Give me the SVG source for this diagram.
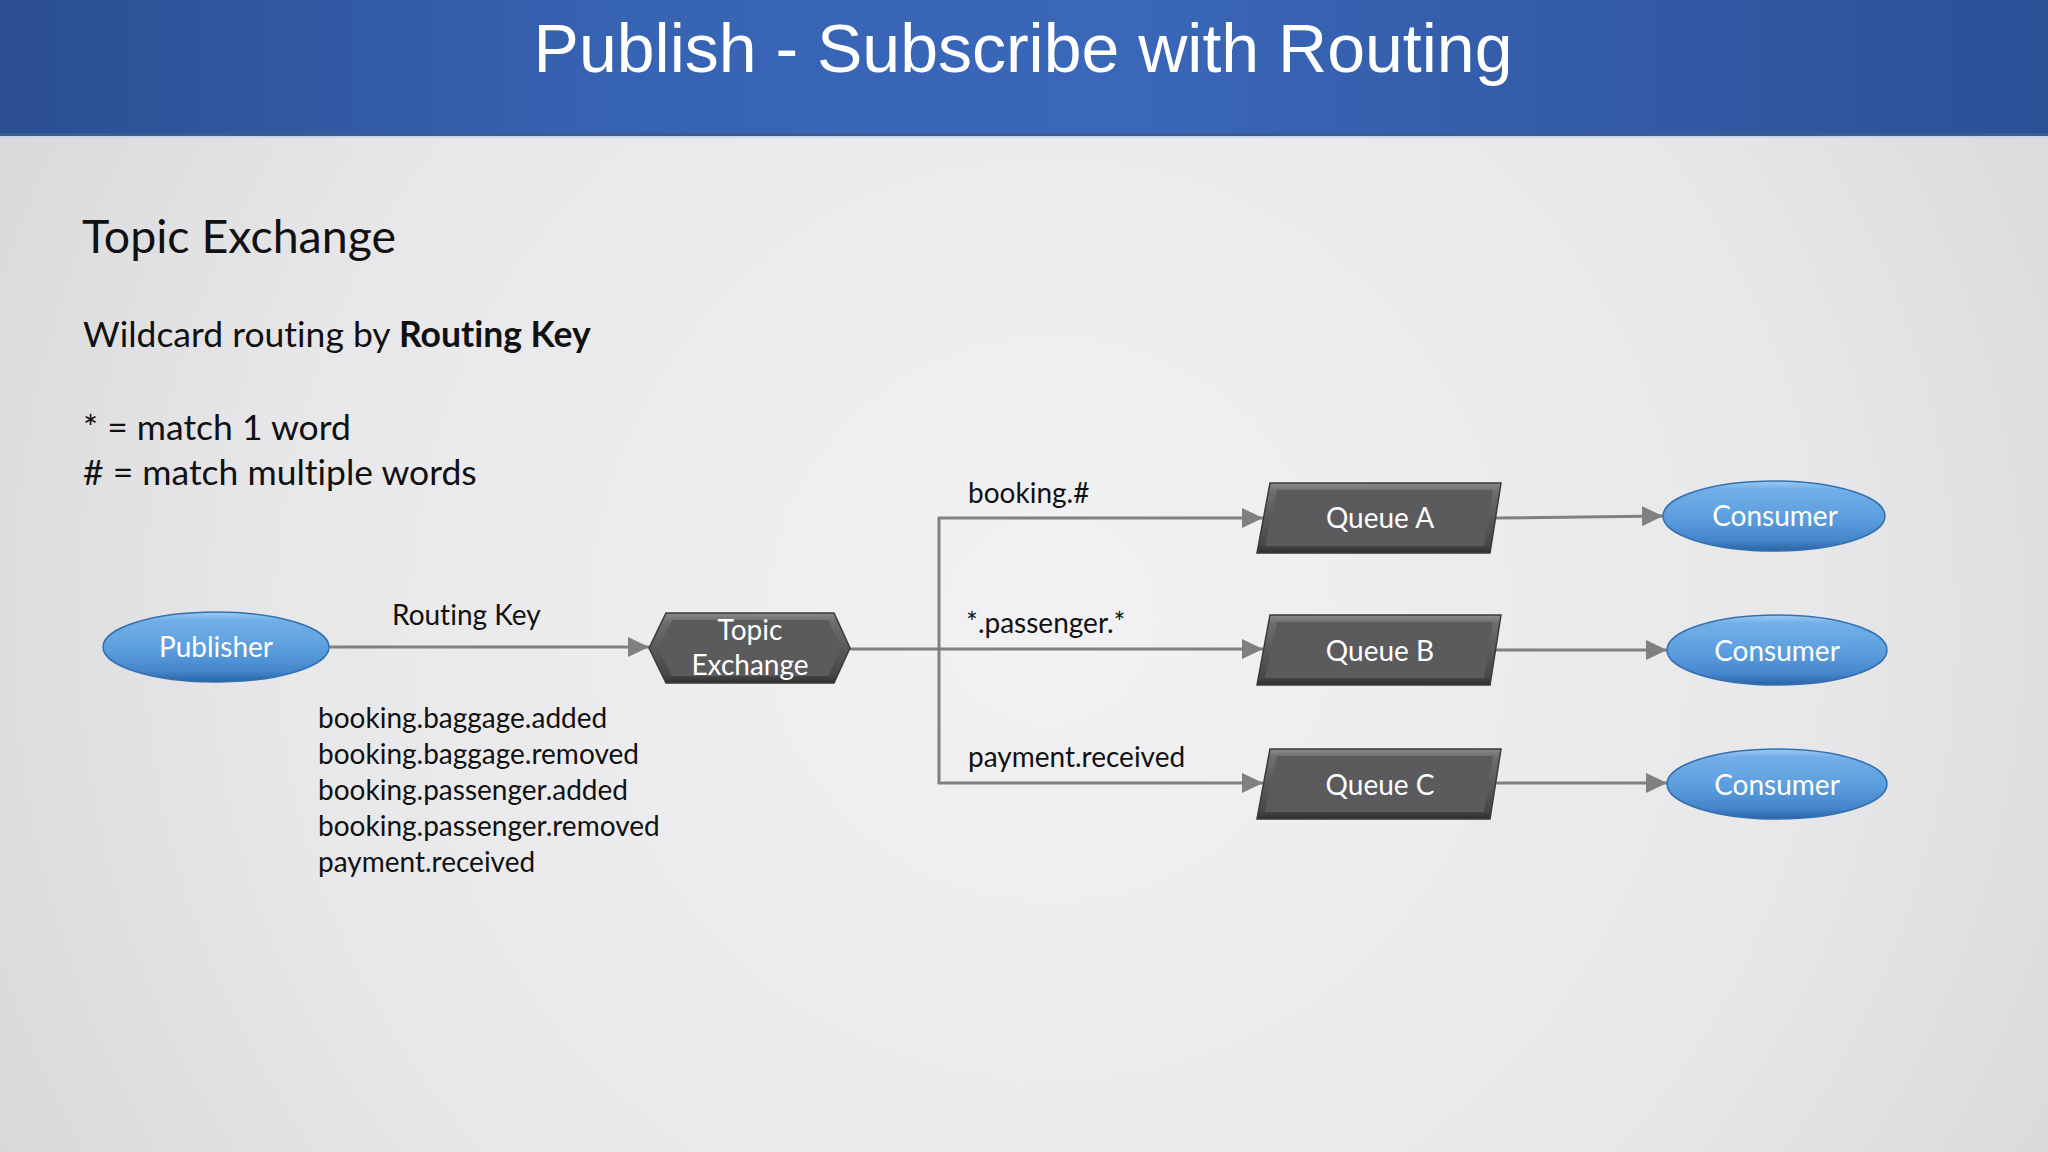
<svg xmlns="http://www.w3.org/2000/svg" width="2048" height="1152" viewBox="0 0 2048 1152">
<defs>
  <radialGradient id="bg" cx="1050" cy="620" r="1250" gradientUnits="userSpaceOnUse">
    <stop offset="0" stop-color="#f2f2f4"/>
    <stop offset="0.6" stop-color="#e8e8ea"/>
    <stop offset="1" stop-color="#d6d6d8"/>
  </radialGradient>
  <linearGradient id="banner" x1="0" y1="0" x2="1" y2="0">
    <stop offset="0" stop-color="#2b4e91"/>
    <stop offset="0.3" stop-color="#3763b3"/>
    <stop offset="0.55" stop-color="#3a67b8"/>
    <stop offset="1" stop-color="#2c5096"/>
  </linearGradient>
  <linearGradient id="blue" x1="0" y1="0" x2="0" y2="1">
    <stop offset="0" stop-color="#9ccbf2"/>
    <stop offset="0.12" stop-color="#72afe8"/>
    <stop offset="0.55" stop-color="#5a9ddd"/>
    <stop offset="0.85" stop-color="#4485cb"/>
    <stop offset="1" stop-color="#2a62a3"/>
  </linearGradient>
  <linearGradient id="dark" x1="0" y1="0" x2="0" y2="1">
    <stop offset="0" stop-color="#8a8a8a"/>
    <stop offset="0.12" stop-color="#6e6e6e"/>
    <stop offset="0.5" stop-color="#5a5a5a"/>
    <stop offset="0.88" stop-color="#484848"/>
    <stop offset="1" stop-color="#2e2e2e"/>
  </linearGradient>
  <marker id="arr" markerUnits="userSpaceOnUse" markerWidth="22" markerHeight="22" refX="21" refY="10" orient="auto">
    <path d="M0,0 L21,10 L0,20 Z" fill="#808080"/>
  </marker>
  <style>
    text { font-variant-ligatures: none; }
    .t { font-family: Lato, "Open Sans", sans-serif; fill: #111; }
    .w { font-family: Lato, "Open Sans", sans-serif; fill: #ffffff; font-size: 28px; text-anchor: middle; }
    .lbl { font-size: 28px; }
    .con { fill: none; stroke: #808080; stroke-width: 3; }
    .ell { fill: url(#blue); stroke: #3470b0; stroke-width: 1.5; }
    .shape { fill: url(#dark); stroke: #3a3a3a; stroke-width: 1.5; }
    .inner { fill: #5b5b5d; }
  </style>
</defs>
<rect x="0" y="0" width="2048" height="1152" fill="url(#bg)"/>
<rect x="0" y="0" width="2048" height="135" fill="url(#banner)"/>
<rect x="0" y="133" width="2048" height="3" fill="#3f5c8e"/>
<rect x="0" y="136" width="2048" height="2" fill="#c9d5ea"/>
<text x="1023" y="72" font-family="'Liberation Sans', Arial, sans-serif" font-size="68" fill="#ffffff" text-anchor="middle">Publish - Subscribe with Routing</text>

<g id="intro">
  <text class="t" x="82" y="253" font-size="46.5">Topic Exchange</text>
  <text class="t" x="83" y="347" font-size="35.5">Wildcard routing by <tspan font-weight="bold">Routing Key</tspan></text>
  <text class="t" x="83" y="440" font-size="35.5">* = match 1 word</text>
  <text class="t" x="83" y="485" font-size="35.5"># = match multiple words</text>
</g>

<g id="connectors">
  <path class="con" d="M329,647 H649" marker-end="url(#arr)"/>
  <path class="con" d="M850,649 H1263" marker-end="url(#arr)"/>
  <path class="con" d="M939,649 V518 H1263" marker-end="url(#arr)"/>
  <path class="con" d="M939,649 V783 H1263" marker-end="url(#arr)"/>
  <path class="con" d="M1495,518 L1663,516" marker-end="url(#arr)"/>
  <path class="con" d="M1495,650 L1667,650" marker-end="url(#arr)"/>
  <path class="con" d="M1495,783 L1667,783" marker-end="url(#arr)"/>
  <text class="t lbl" x="392" y="625">Routing Key</text>
  <text class="t lbl" x="968" y="503">booking.#</text>
  <text class="t lbl" x="966" y="633">*.passenger.*</text>
  <text class="t lbl" x="968" y="767">payment.received</text>
</g>

<g id="routing-keys">
  <text class="t lbl" x="318" y="728">booking.baggage.added</text>
  <text class="t lbl" x="318" y="764">booking.baggage.removed</text>
  <text class="t lbl" x="318" y="800">booking.passenger.added</text>
  <text class="t lbl" x="318" y="836">booking.passenger.removed</text>
  <text class="t lbl" x="318" y="872">payment.received</text>
</g>

<g id="publisher">
  <ellipse class="ell" cx="216" cy="647" rx="113" ry="35"/>
  <text class="w" x="216" y="657">Publisher</text>
</g>

<g id="topic-exchange">
  <polygon class="shape" points="649,648 666,613 834,613 850,648 834,683 666,683"/>
  <polygon class="inner" points="658,648 672,620 828,620 841,648 828,676 672,676"/>
  <text class="w" x="750" y="640">Topic</text>
  <text class="w" x="750" y="675">Exchange</text>
</g>

<g id="queue-a">
  <polygon class="shape" points="1270,483 1501,483 1490,553 1257,553"/>
  <polygon class="inner" points="1277,490 1493,490 1484,546 1265,546"/>
  <text class="w" x="1380" y="528">Queue A</text>
</g>
<g id="queue-b">
  <polygon class="shape" points="1270,615 1501,615 1490,685 1257,685"/>
  <polygon class="inner" points="1277,622 1493,622 1484,678 1265,678"/>
  <text class="w" x="1380" y="661">Queue B</text>
</g>
<g id="queue-c">
  <polygon class="shape" points="1270,749 1501,749 1490,819 1257,819"/>
  <polygon class="inner" points="1277,756 1493,756 1484,812 1265,812"/>
  <text class="w" x="1380" y="795">Queue C</text>
</g>

<g id="consumer-a">
  <ellipse class="ell" cx="1774" cy="516" rx="111" ry="35"/>
  <text class="w" x="1775" y="526">Consumer</text>
</g>
<g id="consumer-b">
  <ellipse class="ell" cx="1777" cy="650" rx="110" ry="35"/>
  <text class="w" x="1777" y="661">Consumer</text>
</g>
<g id="consumer-c">
  <ellipse class="ell" cx="1777" cy="784" rx="110" ry="35"/>
  <text class="w" x="1777" y="795">Consumer</text>
</g>
</svg>
